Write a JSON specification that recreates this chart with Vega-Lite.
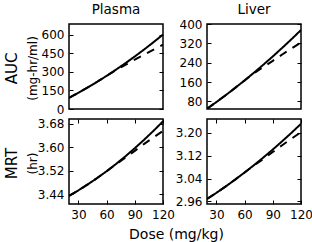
{
  "$schema": "https://vega.github.io/schema/vega-lite/v6.json",
  "padding": {"left": 3, "top": 1, "right": 0, "bottom": 0},
  "background": "white",
  "config": {
    "font": "DejaVu Sans",
    "view": {"stroke": "black", "strokeWidth": 1.5},
    "axis": {
      "domain": false, "grid": false, "ticks": true, "tickSize": -4, "tickWidth": 1,
      "tickColor": "black", "labelColor": "black", "labelFontSize": 12, "labelFont": "DejaVu Sans",
      "labelFlush": false, "labelOverlap": false,
      "titleColor": "black", "titleFont": "DejaVu Sans", "titleFontWeight": "normal"
    },
    "axisY": {"labelPadding": 9},
    "axisX": {"labelPadding": 9},
    "title": {"font": "DejaVu Sans", "fontWeight": "normal", "color": "black"}
  },
  "datasets": {
    "plasma_auc": [
      {"dose": 20, "value": 90, "series": "solid"}, {"dose": 30, "value": 131, "series": "solid"},
      {"dose": 40, "value": 174, "series": "solid"}, {"dose": 50, "value": 219.5, "series": "solid"},
      {"dose": 60, "value": 267, "series": "solid"}, {"dose": 70, "value": 317, "series": "solid"},
      {"dose": 80, "value": 369, "series": "solid"}, {"dose": 90, "value": 423.5, "series": "solid"},
      {"dose": 100, "value": 480, "series": "solid"}, {"dose": 110, "value": 539, "series": "solid"},
      {"dose": 120, "value": 600, "series": "solid"},
      {"dose": 20, "value": 90, "series": "dashed"}, {"dose": 30, "value": 131, "series": "dashed"},
      {"dose": 40, "value": 174, "series": "dashed"}, {"dose": 50, "value": 219.5, "series": "dashed"},
      {"dose": 60, "value": 267, "series": "dashed"}, {"dose": 70, "value": 313, "series": "dashed"},
      {"dose": 80, "value": 356, "series": "dashed"}, {"dose": 90, "value": 398, "series": "dashed"},
      {"dose": 100, "value": 439, "series": "dashed"}, {"dose": 110, "value": 479, "series": "dashed"},
      {"dose": 120, "value": 518, "series": "dashed"}
    ],
    "liver_auc": [
      {"dose": 20, "value": 50, "series": "solid"}, {"dose": 30, "value": 77.6, "series": "solid"},
      {"dose": 40, "value": 106.4, "series": "solid"}, {"dose": 50, "value": 136.2, "series": "solid"},
      {"dose": 60, "value": 167, "series": "solid"}, {"dose": 70, "value": 199, "series": "solid"},
      {"dose": 80, "value": 232, "series": "solid"}, {"dose": 90, "value": 266.2, "series": "solid"},
      {"dose": 100, "value": 301.4, "series": "solid"}, {"dose": 110, "value": 337.6, "series": "solid"},
      {"dose": 120, "value": 375, "series": "solid"},
      {"dose": 20, "value": 50, "series": "dashed"}, {"dose": 30, "value": 77.6, "series": "dashed"},
      {"dose": 40, "value": 106.4, "series": "dashed"}, {"dose": 50, "value": 136.2, "series": "dashed"},
      {"dose": 60, "value": 167, "series": "dashed"}, {"dose": 70, "value": 197, "series": "dashed"},
      {"dose": 80, "value": 222, "series": "dashed"}, {"dose": 90, "value": 248, "series": "dashed"},
      {"dose": 100, "value": 274, "series": "dashed"}, {"dose": 110, "value": 299, "series": "dashed"},
      {"dose": 120, "value": 324, "series": "dashed"}
    ],
    "plasma_mrt": [
      {"dose": 20, "value": 3.434, "series": "solid"}, {"dose": 30, "value": 3.4528, "series": "solid"},
      {"dose": 40, "value": 3.4732, "series": "solid"}, {"dose": 50, "value": 3.495, "series": "solid"},
      {"dose": 60, "value": 3.5182, "series": "solid"}, {"dose": 70, "value": 3.543, "series": "solid"},
      {"dose": 80, "value": 3.5692, "series": "solid"}, {"dose": 90, "value": 3.597, "series": "solid"},
      {"dose": 100, "value": 3.6262, "series": "solid"}, {"dose": 110, "value": 3.6568, "series": "solid"},
      {"dose": 120, "value": 3.689, "series": "solid"},
      {"dose": 20, "value": 3.434, "series": "dashed"}, {"dose": 30, "value": 3.4528, "series": "dashed"},
      {"dose": 40, "value": 3.4732, "series": "dashed"}, {"dose": 50, "value": 3.495, "series": "dashed"},
      {"dose": 60, "value": 3.5182, "series": "dashed"}, {"dose": 70, "value": 3.542, "series": "dashed"},
      {"dose": 80, "value": 3.565, "series": "dashed"}, {"dose": 90, "value": 3.588, "series": "dashed"},
      {"dose": 100, "value": 3.612, "series": "dashed"}, {"dose": 110, "value": 3.634, "series": "dashed"},
      {"dose": 120, "value": 3.656, "series": "dashed"}
    ],
    "liver_mrt": [
      {"dose": 20, "value": 2.968, "series": "solid"}, {"dose": 30, "value": 2.9897, "series": "solid"},
      {"dose": 40, "value": 3.0125, "series": "solid"}, {"dose": 50, "value": 3.0363, "series": "solid"},
      {"dose": 60, "value": 3.0611, "series": "solid"}, {"dose": 70, "value": 3.087, "series": "solid"},
      {"dose": 80, "value": 3.1139, "series": "solid"}, {"dose": 90, "value": 3.1419, "series": "solid"},
      {"dose": 100, "value": 3.1709, "series": "solid"}, {"dose": 110, "value": 3.2009, "series": "solid"},
      {"dose": 120, "value": 3.232, "series": "solid"},
      {"dose": 20, "value": 2.968, "series": "dashed"}, {"dose": 30, "value": 2.9897, "series": "dashed"},
      {"dose": 40, "value": 3.0125, "series": "dashed"}, {"dose": 50, "value": 3.0363, "series": "dashed"},
      {"dose": 60, "value": 3.0611, "series": "dashed"}, {"dose": 70, "value": 3.086, "series": "dashed"},
      {"dose": 80, "value": 3.109, "series": "dashed"}, {"dose": 90, "value": 3.133, "series": "dashed"},
      {"dose": 100, "value": 3.157, "series": "dashed"}, {"dose": 110, "value": 3.180, "series": "dashed"},
      {"dose": 120, "value": 3.203, "series": "dashed"}
    ]
  },
  "columns": 2,
  "bounds": "flush",
  "spacing": {"row": 10, "column": 44},
  "concat": [
    {
      "title": {"text": "Plasma", "fontSize": 13.5, "frame": "group", "offset": 8},
      "width": 94, "height": 85,
      "data": {"name": "plasma_auc"},
      "resolve": {"axis": {"x": "independent", "y": "independent"}},
      "layer": [
        {
          "mark": {"type": "line", "color": "black", "strokeWidth": 2, "clip": true},
          "encoding": {
            "x": {"field": "dose", "type": "quantitative", "scale": {"domain": [20, 120], "nice": false}, "axis": null},
            "y": {"field": "value", "type": "quantitative", "scale": {"domain": [0, 685], "nice": false, "zero": false},
                  "axis": {"values": [0, 150, 300, 450, 600], "title": "(mg-hr/ml)", "titleFontSize": 12, "titleX": -37, "titleY": 44, "titleAlign": "center", "titleBaseline": "middle"}},
            "strokeDash": {"field": "series", "type": "nominal", "scale": {"domain": ["solid", "dashed"], "range": [[1, 0], [8, 7]]}, "legend": null}
          }
        },
        {
          "mark": {"type": "line", "strokeOpacity": 0},
          "encoding": {
            "x": {"field": "dose", "type": "quantitative", "axis": null},
            "y": {"field": "value", "type": "quantitative", "axis": {"orient": "right", "labels": false, "title": null, "values": [0, 150, 300, 450, 600]}},
            "detail": {"field": "series"}
          }
        },
        {
          "mark": {"type": "line", "strokeOpacity": 0},
          "encoding": {
            "x": {"field": "dose", "type": "quantitative", "axis": null},
            "y": {"field": "value", "type": "quantitative", "axis": {"orient": "left", "labels": false, "ticks": false, "title": "AUC", "titleFontSize": 15, "titleX": -58, "titleY": 44, "titleAlign": "center", "titleBaseline": "middle"}},
            "detail": {"field": "series"}
          }
        }
      ]
    },
    {
      "title": {"text": "Liver", "fontSize": 13.5, "frame": "group", "offset": 2},
      "width": 94, "height": 85,
      "data": {"name": "liver_auc"},
      "resolve": {"axis": {"x": "independent", "y": "independent"}},
      "layer": [
        {
          "mark": {"type": "line", "color": "black", "strokeWidth": 2, "clip": true},
          "encoding": {
            "x": {"field": "dose", "type": "quantitative", "scale": {"domain": [20, 120], "nice": false}, "axis": null},
            "y": {"field": "value", "type": "quantitative", "scale": {"domain": [49, 400], "nice": false, "zero": false},
                  "axis": {"values": [80, 160, 240, 320, 400], "title": null}},
            "strokeDash": {"field": "series", "type": "nominal", "scale": {"domain": ["solid", "dashed"], "range": [[1, 0], [8, 7]]}, "legend": null}
          }
        },
        {
          "mark": {"type": "line", "strokeOpacity": 0},
          "encoding": {
            "x": {"field": "dose", "type": "quantitative", "axis": null},
            "y": {"field": "value", "type": "quantitative", "axis": {"orient": "right", "labels": false, "title": null, "values": [80, 160, 240, 320, 400]}},
            "detail": {"field": "series"}
          }
        }
      ]
    },
    {
      "width": 94, "height": 85,
      "data": {"name": "plasma_mrt"},
      "resolve": {"axis": {"x": "independent", "y": "independent"}},
      "layer": [
        {
          "mark": {"type": "line", "color": "black", "strokeWidth": 2, "clip": true},
          "encoding": {
            "x": {"field": "dose", "type": "quantitative", "scale": {"domain": [20, 120], "nice": false},
                  "axis": {"values": [30, 60, 90, 120], "title": "Dose (mg/kg)", "titleFontSize": 14, "titleX": 107, "titleY": 30, "titleAlign": "center", "titleBaseline": "middle"}},
            "y": {"field": "value", "type": "quantitative", "scale": {"domain": [3.406, 3.697], "nice": false, "zero": false},
                  "axis": {"values": [3.44, 3.52, 3.60, 3.68], "format": ".2f", "title": "(hr)", "titleFontSize": 12, "titleX": -37, "titleY": 44, "titleAlign": "center", "titleBaseline": "middle"}},
            "strokeDash": {"field": "series", "type": "nominal", "scale": {"domain": ["solid", "dashed"], "range": [[1, 0], [8, 7]]}, "legend": null}
          }
        },
        {
          "mark": {"type": "line", "strokeOpacity": 0},
          "encoding": {
            "x": {"field": "dose", "type": "quantitative", "axis": {"orient": "top", "labels": false, "title": null, "values": [30, 60, 90, 120]}},
            "y": {"field": "value", "type": "quantitative", "axis": {"orient": "right", "labels": false, "title": null, "values": [3.44, 3.52, 3.60, 3.68]}},
            "detail": {"field": "series"}
          }
        },
        {
          "mark": {"type": "line", "strokeOpacity": 0},
          "encoding": {
            "x": {"field": "dose", "type": "quantitative", "axis": null},
            "y": {"field": "value", "type": "quantitative", "axis": {"orient": "left", "labels": false, "ticks": false, "title": "MRT", "titleFontSize": 15, "titleX": -58, "titleY": 44, "titleAlign": "center", "titleBaseline": "middle"}},
            "detail": {"field": "series"}
          }
        }
      ]
    },
    {
      "width": 94, "height": 85,
      "data": {"name": "liver_mrt"},
      "resolve": {"axis": {"x": "independent", "y": "independent"}},
      "layer": [
        {
          "mark": {"type": "line", "color": "black", "strokeWidth": 2, "clip": true},
          "encoding": {
            "x": {"field": "dose", "type": "quantitative", "scale": {"domain": [20, 120], "nice": false},
                  "axis": {"values": [30, 60, 90, 120], "title": null}},
            "y": {"field": "value", "type": "quantitative", "scale": {"domain": [2.9505, 3.249], "nice": false, "zero": false},
                  "axis": {"values": [2.96, 3.04, 3.12, 3.20], "format": ".2f", "title": null}},
            "strokeDash": {"field": "series", "type": "nominal", "scale": {"domain": ["solid", "dashed"], "range": [[1, 0], [8, 7]]}, "legend": null}
          }
        },
        {
          "mark": {"type": "line", "strokeOpacity": 0},
          "encoding": {
            "x": {"field": "dose", "type": "quantitative", "axis": {"orient": "top", "labels": false, "title": null, "values": [30, 60, 90, 120]}},
            "y": {"field": "value", "type": "quantitative", "axis": {"orient": "right", "labels": false, "title": null, "values": [2.96, 3.04, 3.12, 3.20]}},
            "detail": {"field": "series"}
          }
        }
      ]
    }
  ]
}
